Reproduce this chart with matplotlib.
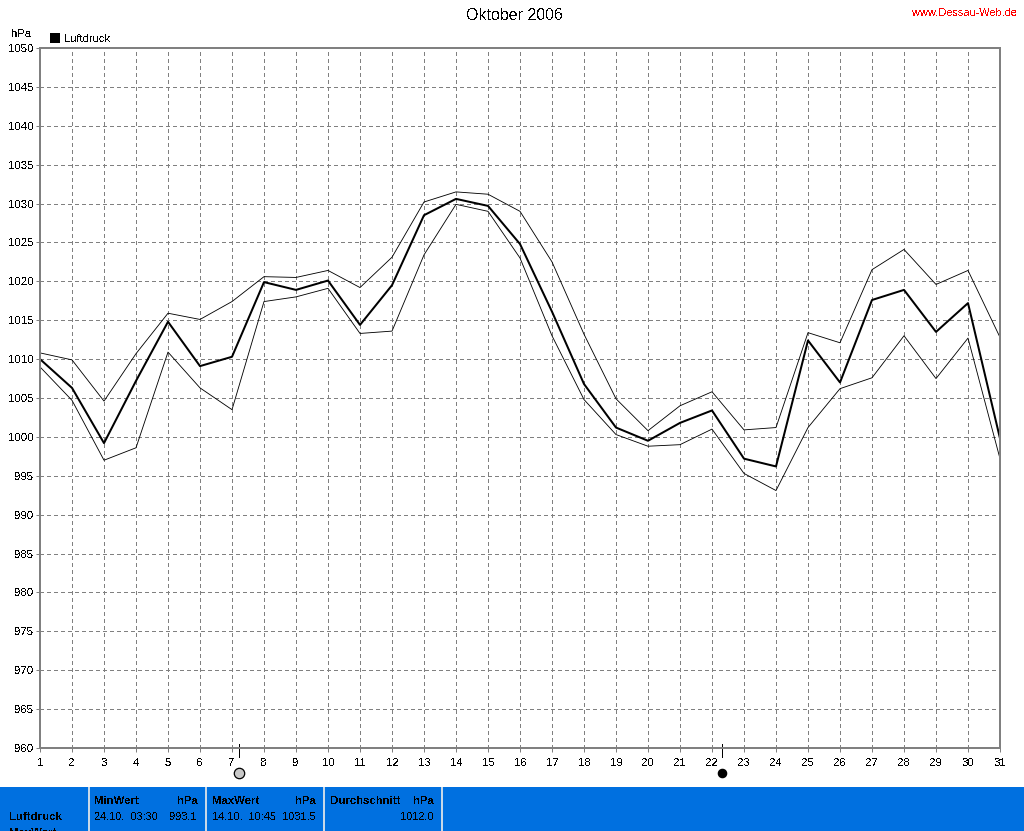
import matplotlib
matplotlib.use("Agg")
import matplotlib.pyplot as plt
from matplotlib.patches import Rectangle

days = list(range(1, 32))
mean_p = [1010.0,1006.3,999.2,1007.2,1014.8,1009.1,1010.3,1019.9,1018.9,1020.1,1014.4,1019.5,1028.5,1030.6,1029.7,1024.8,1016.1,1006.8,1001.2,999.5,1001.8,1003.4,997.2,996.2,1012.4,1007.0,1017.6,1018.9,1013.5,1017.2,999.8]
max_p = [1010.8,1009.9,1004.6,1010.7,1015.9,1015.1,1017.4,1020.6,1020.5,1021.4,1019.2,1023.1,1030.2,1031.5,1031.2,1029.0,1022.5,1013.2,1004.9,1000.8,1004.0,1005.8,1000.9,1001.2,1013.4,1012.1,1021.5,1024.1,1019.6,1021.4,1012.8]
min_p = [1009.0,1004.7,997.0,998.6,1010.9,1006.3,1003.5,1017.4,1018.0,1019.1,1013.3,1013.6,1023.4,1029.9,1029.0,1023.0,1013.0,1004.8,1000.3,998.8,999.0,1001.0,995.3,993.1,1001.2,1006.2,1007.6,1013.0,1007.5,1012.7,997.2]
y_ticks = list(range(960, 1051, 5))
moon_days = [7.22, 22.31]
moon_colors = ["#c8c8c8", "black"]

W, H = 1024, 831
plt.rcParams["font.family"] = ["Liberation Sans", "DejaVu Sans"]
plt.rcParams["font.size"] = 8.2
plt.rcParams["text.antialiased"] = False
fig = plt.figure(figsize=(W/100, H/100), dpi=100)
ax = fig.add_axes([40/W, 1-748/H, 960/W, 700/H])
ax.set_xlim(1, 31)
ax.set_ylim(960, 1050)
ax.set_xticks(days)
ax.set_yticks(y_ticks)
ax.grid(True, color="#808080", lw=0.72, ls=(0, (4, 4)), antialiased=False)
ax.set_axisbelow(True)
for s in ["top", "left", "bottom", "right"]:
    ax.spines[s].set_color("#808080")
    ax.spines[s].set_linewidth(1.44)
ax.tick_params(axis="y", length=3, width=0.72, color="#808080", labelcolor="black", labelsize=8.2, pad=1.5)
ax.tick_params(axis="x", length=3, width=0.72, color="#808080", labelcolor="black", labelsize=8.2, pad=4)

ax.plot(days, max_p, color="black", lw=0.62, antialiased=True)
ax.plot(days, min_p, color="black", lw=0.62, antialiased=True)
ax.plot(days, mean_p, color="black", lw=1.45, antialiased=True)

# moon phase marks
for d, c in zip(moon_days, moon_colors):
    ax.plot([d, d], [958.8, 960.5], color="black", lw=0.72, clip_on=False, antialiased=False)
    ax.plot([d], [956.8], "o", ms=7.5 if c != "black" else 6, mfc=c, mec="black", mew=0.9, clip_on=False)

def T(x, y, s, **kw):
    kw.setdefault("va", "center")
    kw.setdefault("ha", "left")
    fig.text(x/W, 1-y/H, s, **kw)

T(514, 16, "Oktober 2006", ha="center", fontsize=11.5)
T(1017, 13, "www.Dessau-Web.de", ha="right", color="red", fontsize=7.9)
T(11, 34, "hPa")
T(64, 39, "Luftdruck", fontsize=8)
fig.add_artist(Rectangle((50/W, 1-43/H), 10/W, 10/H, transform=fig.transFigure, color="black", lw=0))

# info panel
fig.add_artist(Rectangle((0, 0), 1, 44/H, transform=fig.transFigure, color="#0070E0", lw=0))
for x in [88, 205, 323, 441]:
    fig.add_artist(Rectangle((x/W, 0), 1.5/W, 44/H, transform=fig.transFigure, color="#C8D8E8", lw=0))
bold = dict(fontweight="bold")
T(9, 817, "Luftdruck", **bold)
T(9, 833, "MaxWert", **bold)
T(94, 801, "MinWert", **bold); T(198, 801, "hPa", ha="right", **bold)
T(94, 817, "24.10.  03:30", fontsize=7.9); T(197, 817, "993.1", ha="right", fontsize=7.9)
T(212, 801, "MaxWert", **bold); T(316, 801, "hPa", ha="right", **bold)
T(212, 817, "14.10.  10:45", fontsize=7.9); T(316, 817, "1031.5", ha="right", fontsize=7.9)
T(330, 801, "Durchschnitt", **bold); T(434, 801, "hPa", ha="right", **bold)
T(434, 817, "1012.0", ha="right", fontsize=7.9)

fig.savefig("out.png", dpi=100, facecolor="white")
